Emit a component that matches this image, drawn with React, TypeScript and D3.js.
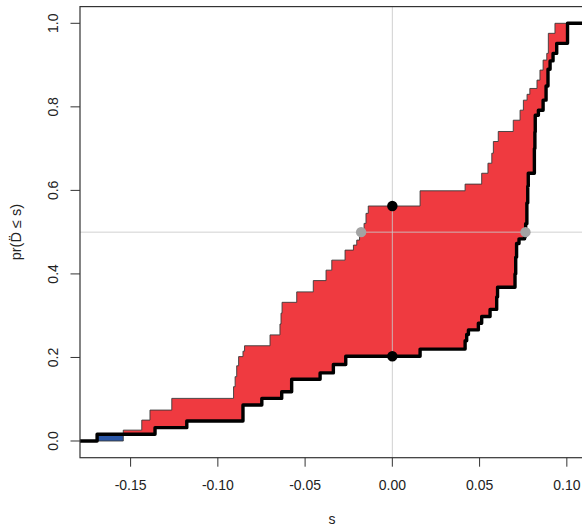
import React from "react";
import * as d3 from "d3";

// Thick (lower) empirical CDF: jump locations and values after the jump
const lowerS = [-0.1692, -0.136, -0.1178, -0.0856, -0.0748, -0.0634, -0.0577, -0.0414, -0.0338, -0.0267, 0.0159, 0.0417, 0.0426, 0.0436, 0.0493, 0.0512, 0.056, 0.0598, 0.0603, 0.0703, 0.0707, 0.0712, 0.0726, 0.0758, 0.0764, 0.0771, 0.0776, 0.0779, 0.0814, 0.0817, 0.0819, 0.0837, 0.0864, 0.0881, 0.0892, 0.0904, 0.0921, 0.0942, 0.1004];
const lowerP = [0.016, 0.032, 0.048, 0.086, 0.102, 0.118, 0.148, 0.163, 0.183, 0.203, 0.22, 0.24, 0.255, 0.266, 0.282, 0.298, 0.315, 0.345, 0.368, 0.4, 0.44, 0.473, 0.484, 0.49, 0.52, 0.57, 0.61, 0.641, 0.7, 0.74, 0.78, 0.792, 0.816, 0.85, 0.89, 0.91, 0.928, 0.952, 1.0];

// Thin (upper) empirical CDF
const upperS = [-0.1542, -0.1436, -0.1389, -0.1264, -0.091, -0.0901, -0.0892, -0.0881, -0.0856, -0.0847, -0.0701, -0.0644, -0.0638, -0.0632, -0.0548, -0.0453, -0.038, -0.0347, -0.0271, -0.0223, -0.0204, -0.0188, -0.0162, -0.0151, -0.0138, 0.0159, 0.0417, 0.0512, 0.0548, 0.057, 0.0579, 0.0607, 0.0693, 0.0732, 0.0751, 0.0772, 0.0788, 0.0829, 0.0846, 0.0864, 0.0885, 0.0894, 0.0932];
const upperP = [0.026, 0.05, 0.074, 0.102, 0.13, 0.154, 0.18, 0.202, 0.215, 0.228, 0.254, 0.28, 0.306, 0.332, 0.357, 0.384, 0.409, 0.433, 0.457, 0.469, 0.481, 0.5, 0.521, 0.545, 0.5626, 0.599, 0.615, 0.641, 0.665, 0.689, 0.717, 0.741, 0.768, 0.792, 0.816, 0.83, 0.844, 0.864, 0.888, 0.912, 0.928, 0.976, 1.0];

const blackPointsS = [0, 0];
const blackPointsP = [0.5626, 0.203];
const greyPointsS = [-0.0179, 0.0763];
const greyPointsP = [0.5, 0.5];

const xTicks = [-0.15, -0.1, -0.05, 0, 0.05, 0.1];
const xTickLabels = ["-0.15", "-0.10", "-0.05", "0.00", "0.05", "0.10"];
const yTicks = [0, 0.2, 0.4, 0.6, 0.8, 1.0];
const yTickLabels = ["0.0", "0.2", "0.4", "0.6", "0.8", "1.0"];

function stepValue(S: number[], P: number[], s: number): number {
  let v = 0;
  for (let i = 0; i < S.length; i++) {
    if (S[i] <= s) v = P[i];
  }
  return v;
}

export default function App() {
  const W = 582;
  const H = 528;
  const x = d3.scaleLinear().domain([-0.179, 0.1115]).range([80, 586.9]);
  const y = d3.scaleLinear().domain([-0.04, 1.04]).range([457.7, 6.6]);
  const [xmin, xmax] = x.domain();
  const [ymin, ymax] = y.domain();

  const breaks = Array.from(new Set([xmin, ...lowerS, ...upperS, xmax])).sort((a, b) => a - b);
  const rows = breaks.map((s) => ({ s, L: stepValue(lowerS, lowerP, s), U: stepValue(upperS, upperP, s) }));

  const redArea = d3
    .area<any>()
    .curve(d3.curveStepAfter)
    .x((d) => x(d.s))
    .y0((d) => y(d.L))
    .y1((d) => y(Math.max(d.U, d.L)));
  const blueArea = d3
    .area<any>()
    .curve(d3.curveStepAfter)
    .x((d) => x(d.s))
    .y0((d) => y(d.U))
    .y1((d) => y(Math.max(d.U, d.L)));

  const stepLine = d3.line<[number, number]>().curve(d3.curveStepAfter).x((d) => x(d[0])).y((d) => y(d[1]));
  const lowerPts: [number, number][] = [[xmin, 0], ...lowerS.map((s, i) => [s, lowerP[i]] as [number, number]), [xmax, 1]];
  const upperPts: [number, number][] = [[xmin, 0], ...upperS.map((s, i) => [s, upperP[i]] as [number, number]), [xmax, 1]];

  const font = "'Liberation Sans', Arial, Helvetica, sans-serif";
  const left = x(xmin);
  const right = x(xmax);
  const top = y(ymax);
  const bottom = y(ymin);

  return (
    <svg width={W} height={H} style={{ position: "fixed", left: 0, top: 0, background: "#fff" }} fontFamily={font}>
      <defs>
        <clipPath id="plotclip">
          <rect x={left} y={top} width={right - left} height={bottom - top} />
        </clipPath>
      </defs>
      <g clipPath="url(#plotclip)">
        <path d={redArea(rows) || ""} fill="#ef3a40" stroke="none" />
        <path d={blueArea(rows) || ""} fill="#2a56a6" stroke="none" />
        <line x1={x(0)} x2={x(0)} y1={top} y2={bottom} stroke="#c8c8c8" strokeOpacity={0.85} strokeWidth={1} />
        <line x1={left} x2={right} y1={y(0.5)} y2={y(0.5)} stroke="#c8c8c8" strokeOpacity={0.85} strokeWidth={1} />
        <path d={stepLine(upperPts) || ""} fill="none" stroke="#3a3a3a" strokeWidth={0.9} />
        <path d={stepLine(lowerPts) || ""} fill="none" stroke="#000" strokeWidth={3.4} strokeLinejoin="round" strokeLinecap="round" />
        {blackPointsS.map((s, i) => (
          <circle key={"b" + i} cx={x(s)} cy={y(blackPointsP[i])} r={5.2} fill="#000" />
        ))}
        {greyPointsS.map((s, i) => (
          <circle key={"g" + i} cx={x(s)} cy={y(greyPointsP[i])} r={5.2} fill="#a3a3a3" />
        ))}
      </g>
      {/* box */}
      <rect x={left} y={top} width={right - left} height={bottom - top} fill="none" stroke="#333" strokeWidth={1.2} />
      {/* x axis ticks */}
      {xTicks.map((t, i) => (
        <g key={"xt" + i}>
          <line x1={x(t)} x2={x(t)} y1={bottom} y2={bottom + 9} stroke="#333" strokeWidth={1} />
          <text x={x(t)} y={490} textAnchor="middle" fontSize={14} fill="#222">
            {xTickLabels[i]}
          </text>
        </g>
      ))}
      {/* y axis ticks */}
      {yTicks.map((t, i) => (
        <g key={"yt" + i}>
          <line x1={left - 9.5} x2={left} y1={y(t)} y2={y(t)} stroke="#333" strokeWidth={1} />
          <text transform={`translate(58,${y(t)}) rotate(-90)`} textAnchor="middle" fontSize={14} fill="#222">
            {yTickLabels[i]}
          </text>
        </g>
      ))}
      <text x={332} y={524} textAnchor="middle" fontSize={14} fill="#222">
        s
      </text>
      <text transform={`translate(21,${y(0.5)}) rotate(-90)`} textAnchor="middle" fontSize={14.5} fill="#222">
        {"pr(D\u0308 \u2264 s)"}
      </text>
    </svg>
  );
}
